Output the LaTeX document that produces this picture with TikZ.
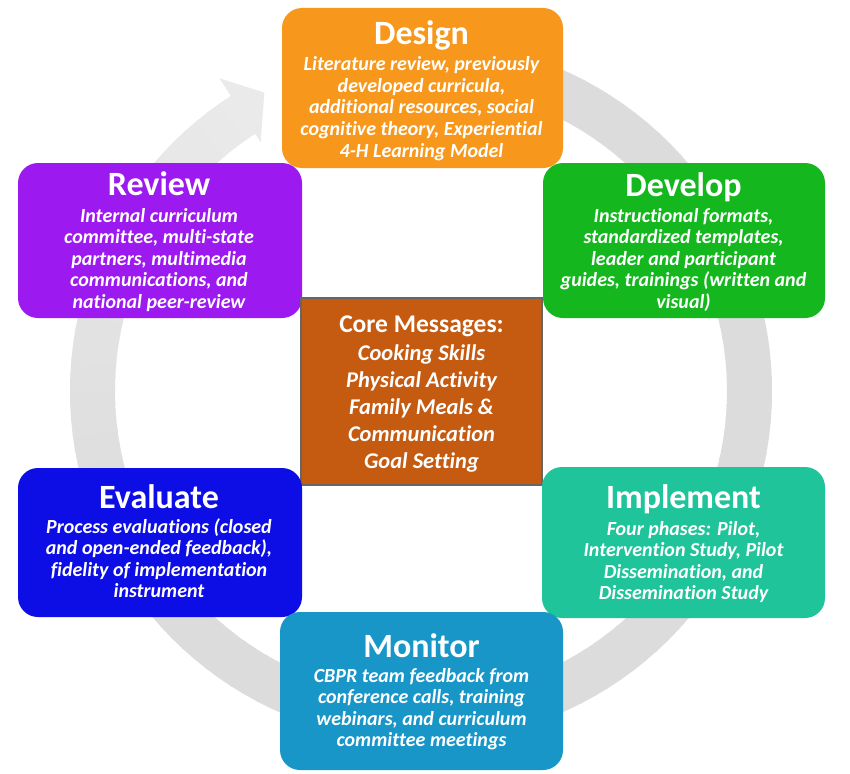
\documentclass[tikz,border=0pt]{standalone}
\usepackage{fontspec}
\setmainfont{Carlito}[Ligatures=NoCommon]
\definecolor{cDesign}{HTML}{F7981D}
\definecolor{cReview}{HTML}{9C1AF0}
\definecolor{cDevelop}{HTML}{14B81E}
\definecolor{cCore}{HTML}{C55A11}
\definecolor{cEval}{HTML}{0D0DE6}
\definecolor{cImpl}{HTML}{20C49A}
\definecolor{cMon}{HTML}{1896C8}
\definecolor{ringD}{HTML}{DCDCDC}
\definecolor{ringL}{HTML}{EAEAEA}
\newcommand\linesblock[1]{\begin{tabular}[t]{@{}c@{}}#1\end{tabular}}
\begin{document}
\begin{tikzpicture}[x=1pt,y=-1pt,
  box/.style={rounded corners=20pt, inner sep=0pt, draw=none},
  ttl/.style={text=white, inner sep=0pt, anchor=base, font=\fontsize{34}{36}\selectfont\bfseries},
  bdy/.style={text=white, inner sep=0pt, anchor=base, font=\fontsize{20}{21.5}\selectfont\bfseries\itshape},
  coreT/.style={text=white, inner sep=0pt, anchor=base, font=\fontsize{25.5}{27}\selectfont\bfseries},
  coreB/.style={text=white, inner sep=0pt, anchor=base, font=\fontsize{22.5}{27}\selectfont\bfseries\itshape},
  ringseg/.style={line width=45pt, line cap=butt}]
\useasboundingbox (0,0) rectangle (850,773);
\fill[white] (0,0) rectangle (850,773);
\coordinate (ctr) at (421,391);
% circular arrow
\foreach \a in {-80,-77.5,...,232.5}{
  \pgfmathsetmacro\p{max(0,min(100,(\a-150)/87*100))}
  \draw[ringseg, color=ringL!\p!ringD] ([shift={(\a:328.5)}]ctr) arc[start angle=\a, end angle=\a+3, radius=328.5];
}
\draw[ringseg, color=ringL] ([shift={(235:328.5)}]ctr) arc[start angle=235, end angle=237.4, radius=328.5];
\coordinate (hA) at ([shift={(237.2:372)}]ctr);
\coordinate (hB) at ([shift={(242.3:337)}]ctr);
\coordinate (hC) at ([shift={(237.2:296)}]ctr);
\fill[ringL] (hA) -- (hB) -- (hC) -- cycle;
% boxes
\node[box, fill=cDesign, minimum width=281pt, minimum height=160pt] (design) at (422.5,88) {};
\node[box, fill=cReview, minimum width=284pt, minimum height=155pt] (review) at (160,240.5) {};
\node[box, fill=cDevelop, minimum width=282pt, minimum height=155pt] (develop) at (684,240.5) {};
\node[draw=gray!80!black, line width=1.2pt, fill=cCore, inner sep=0pt, minimum width=241pt, minimum height=187pt] (core) at (421.5,391.5) {};
\node[box, fill=cEval, minimum width=284pt, minimum height=149pt] (evaluate) at (160,542.5) {};
\node[box, fill=cImpl, minimum width=283pt, minimum height=151pt] (implement) at (683.5,542.5) {};
\node[box, fill=cMon, minimum width=283pt, minimum height=158pt] (monitor) at (421.5,691) {};
% texts
\node[ttl] (designT) at (421.5,45) {Design};
\node[bdy] (designB) at (421.5,71) {\linesblock{Literature review, previously\\developed curricula,\\additional resources, social\\cognitive theory, Experiential\\4-H Learning Model}};
\node[ttl] (reviewT) at (159,195) {Review};
\node[bdy] (reviewB) at (159,222) {\linesblock{Internal curriculum\\committee, multi-state\\partners, multimedia\\communications, and\\national peer-review}};
\node[ttl] (developT) at (683.5,196) {Develop};
\node[bdy] (developB) at (683.5,222) {\linesblock{Instructional formats,\\standardized templates,\\leader and participant\\guides, trainings (written and\\visual)}};
\node[coreT] (coreT) at (421.5,332) {Core Messages:};
\node[coreB] (coreB) at (421.5,360) {\linesblock{Cooking Skills\\Physical Activity\\Family Meals \&\\Communication\\Goal Setting}};
\node[ttl] (evaluateT) at (159,508) {Evaluate};
\node[bdy] (evaluateB) at (159,533) {\linesblock{Process evaluations (closed\\and open-ended feedback),\\fidelity of implementation\\instrument}};
\node[ttl] (implementT) at (683.5,508) {Implement};
\node[bdy] (implementB) at (683.5,535) {\linesblock{Four phases: Pilot,\\Intervention Study, Pilot\\Dissemination, and\\Dissemination Study}};
\node[ttl] (monitorT) at (421.5,657) {Monitor};
\node[bdy] (monitorB) at (421.5,682) {\linesblock{CBPR team feedback from\\conference calls, training\\webinars, and curriculum\\committee meetings}};
\end{tikzpicture}
\end{document}
